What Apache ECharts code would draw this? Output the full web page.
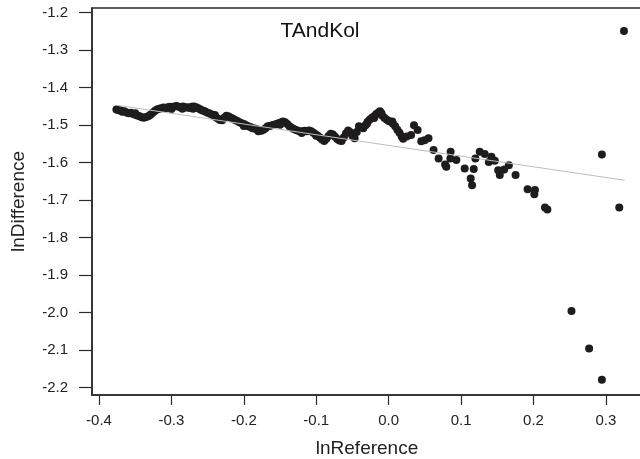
<!DOCTYPE html>
<html>
<head>
<meta charset="utf-8">
<script src="https://cdn.jsdelivr.net/npm/echarts@6/dist/echarts.min.js"></script>
<style>html,body{margin:0;padding:0;background:#fff;}#c{width:640px;height:459px;}</style>
</head>
<body>
<div id="c"></div>
<script>
var chartTitle = 'TAndKol';
var xName = 'lnReference';
var yName = 'lnDifference';
var xTicks = [-0.4, -0.3, -0.2, -0.1, 0.0, 0.1, 0.2, 0.3];
var yTicks = [-2.2, -2.1, -2.0, -1.9, -1.8, -1.7, -1.6, -1.5, -1.4, -1.3, -1.2];

var lnReference = [
-0.376,-0.373,-0.370,-0.368,-0.365,-0.362,-0.359,-0.356,-0.353,-0.350,-0.347,-0.344,-0.341,-0.338,-0.335,-0.332,-0.329,-0.326,-0.323,-0.320,
-0.317,-0.314,-0.311,-0.308,-0.305,-0.302,-0.299,-0.296,-0.293,-0.290,-0.287,-0.284,-0.281,-0.278,-0.275,-0.272,-0.269,-0.266,-0.263,-0.260,
-0.257,-0.254,-0.251,-0.248,-0.245,-0.242,-0.239,-0.236,-0.233,-0.230,-0.227,-0.224,-0.221,-0.218,-0.215,-0.212,-0.209,-0.206,-0.203,-0.200,
-0.197,-0.194,-0.191,-0.188,-0.185,-0.182,-0.179,-0.176,-0.173,-0.170,-0.167,-0.164,-0.161,-0.158,-0.155,-0.152,-0.149,-0.146,-0.143,-0.140,
-0.137,-0.134,-0.131,-0.128,-0.125,-0.122,-0.119,-0.116,-0.113,-0.110,-0.107,-0.104,-0.101,-0.098,-0.095,-0.092,-0.089,-0.086,-0.083,-0.080,
-0.077,-0.074,-0.071,-0.068,-0.065,-0.062,-0.059,-0.056,-0.053,-0.050,-0.047,-0.044,-0.041,-0.038,-0.035,-0.032,-0.029,-0.026,-0.023,-0.020,
-0.017,-0.014,-0.012,-0.009,-0.006,-0.003,0.000,0.003,0.006,0.009,0.012,0.015,0.018,0.020,
-0.300,-0.285,-0.270,-0.350,-0.240,-0.200,-0.180,-0.150,-0.120,-0.100,-0.030,-0.020,0.005,-0.010,
0.025,0.031,0.035,0.040,0.045,0.0496,0.055,0.062,0.069,0.078,0.0796,0.0856,0.0852,0.0935,0.105,0.1133,0.1152,0.1175,0.1198,0.1258,
0.1327,0.1383,0.142,0.1466,0.1513,0.1535,0.1596,0.166,0.1753,0.1919,0.202,0.2012,0.2159,0.2192,0.2525,0.2769,0.2945,0.2945,0.3185,0.325
];
var lnDifference = [
-1.458,-1.460,-1.461,-1.464,-1.463,-1.466,-1.468,-1.467,-1.470,-1.472,-1.474,-1.476,-1.479,-1.480,-1.478,-1.476,-1.472,-1.467,-1.462,-1.458,
-1.456,-1.455,-1.453,-1.455,-1.452,-1.451,-1.453,-1.450,-1.449,-1.451,-1.452,-1.450,-1.453,-1.452,-1.454,-1.451,-1.450,-1.452,-1.455,-1.458,
-1.461,-1.463,-1.466,-1.468,-1.471,-1.474,-1.478,-1.482,-1.486,-1.487,-1.480,-1.475,-1.477,-1.480,-1.483,-1.486,-1.489,-1.492,-1.495,-1.497,
-1.500,-1.503,-1.505,-1.508,-1.509,-1.511,-1.513,-1.515,-1.512,-1.508,-1.503,-1.502,-1.500,-1.499,-1.497,-1.495,-1.493,-1.490,-1.492,-1.497,
-1.503,-1.507,-1.510,-1.513,-1.515,-1.517,-1.516,-1.515,-1.516,-1.514,-1.516,-1.520,-1.524,-1.528,-1.533,-1.538,-1.542,-1.536,-1.529,-1.523,
-1.525,-1.531,-1.537,-1.541,-1.542,-1.533,-1.522,-1.514,-1.519,-1.528,-1.535,-1.518,-1.503,-1.505,-1.508,-1.500,-1.491,-1.485,-1.480,-1.476,
-1.470,-1.466,-1.463,-1.474,-1.480,-1.485,-1.489,-1.491,-1.496,-1.503,-1.512,-1.520,-1.530,-1.536,
-1.457,-1.456,-1.456,-1.468,-1.473,-1.502,-1.516,-1.499,-1.521,-1.528,-1.496,-1.481,-1.490,-1.468,
-1.530,-1.526,-1.500,-1.513,-1.543,-1.540,-1.535,-1.5665,-1.589,-1.605,-1.611,-1.571,-1.589,-1.593,-1.6155,-1.642,-1.660,-1.617,-1.589,-1.571,
-1.577,-1.598,-1.584,-1.595,-1.620,-1.633,-1.618,-1.607,-1.633,-1.671,-1.673,-1.684,-1.7195,-1.725,-1.996,-2.096,-2.179,-1.578,-1.7195,-1.249
];
var fitX = [-0.375, 0.326];
var fitY = [-1.447, -1.647];

var pts = lnReference.map(function (x, i) { return [x, lnDifference[i]]; });
var fit = fitX.map(function (x, i) { return [x, fitY[i]]; });

var chart = echarts.init(document.getElementById('c'), null, {renderer: 'canvas'});
var fmt = function (v) { return (Math.abs(v) < 1e-9 ? 0 : v).toFixed(1); };
var FONT = 'Liberation Sans, Arial, sans-serif';
chart.setOption({
  animation: false,
  backgroundColor: '#fff',
  title: {
    text: chartTitle, left: 'center', top: 16,
    textStyle: {fontFamily: FONT, fontSize: 21, fontWeight: 'normal', color: '#111'}
  },
  grid: {left: 92, right: -2, top: 8, bottom: 64, show: true, borderColor: '#2a2a2a', borderWidth: 1.5,
    containLabel: false, outerBoundsMode: 'none'},
  xAxis: {
    type: 'value', min: -0.4097, max: 0.3499,
    name: xName, nameLocation: 'middle', nameGap: 44,
    nameTextStyle: {fontFamily: FONT, fontSize: 19, color: '#222'},
    splitLine: {show: false},
    axisLine: {show: true, onZero: false, lineStyle: {color: '#2a2a2a', width: 1.5}},
    axisTick: {show: true, inside: false, length: 10, customValues: xTicks, lineStyle: {color: '#2a2a2a', width: 1.2}},
    axisLabel: {customValues: xTicks, formatter: fmt, margin: 18, fontFamily: FONT, fontSize: 15, color: '#222'}
  },
  yAxis: {
    type: 'value', min: -2.2198, max: -1.18745,
    name: yName, nameLocation: 'middle', nameGap: 64, nameRotate: 90,
    nameTextStyle: {fontFamily: FONT, fontSize: 19, color: '#222'},
    splitLine: {show: false},
    axisLine: {show: true, onZero: false, lineStyle: {color: '#2a2a2a', width: 1.5}},
    axisTick: {show: true, inside: false, length: 13, customValues: yTicks, lineStyle: {color: '#2a2a2a', width: 1.2}},
    axisLabel: {customValues: yTicks, formatter: fmt, margin: 24, fontFamily: FONT, fontSize: 15, color: '#222'}
  },
  series: [
    {
      type: 'scatter', data: pts, symbol: 'circle', symbolSize: 8, clip: false,
      itemStyle: {color: '#1e1c1d', opacity: 1}, z: 2
    },
    {
      type: 'line', data: fit, symbol: 'none', clip: false,
      lineStyle: {color: '#bdbdbd', width: 1}, z: 3
    }
  ]
});
</script>
</body>
</html>
